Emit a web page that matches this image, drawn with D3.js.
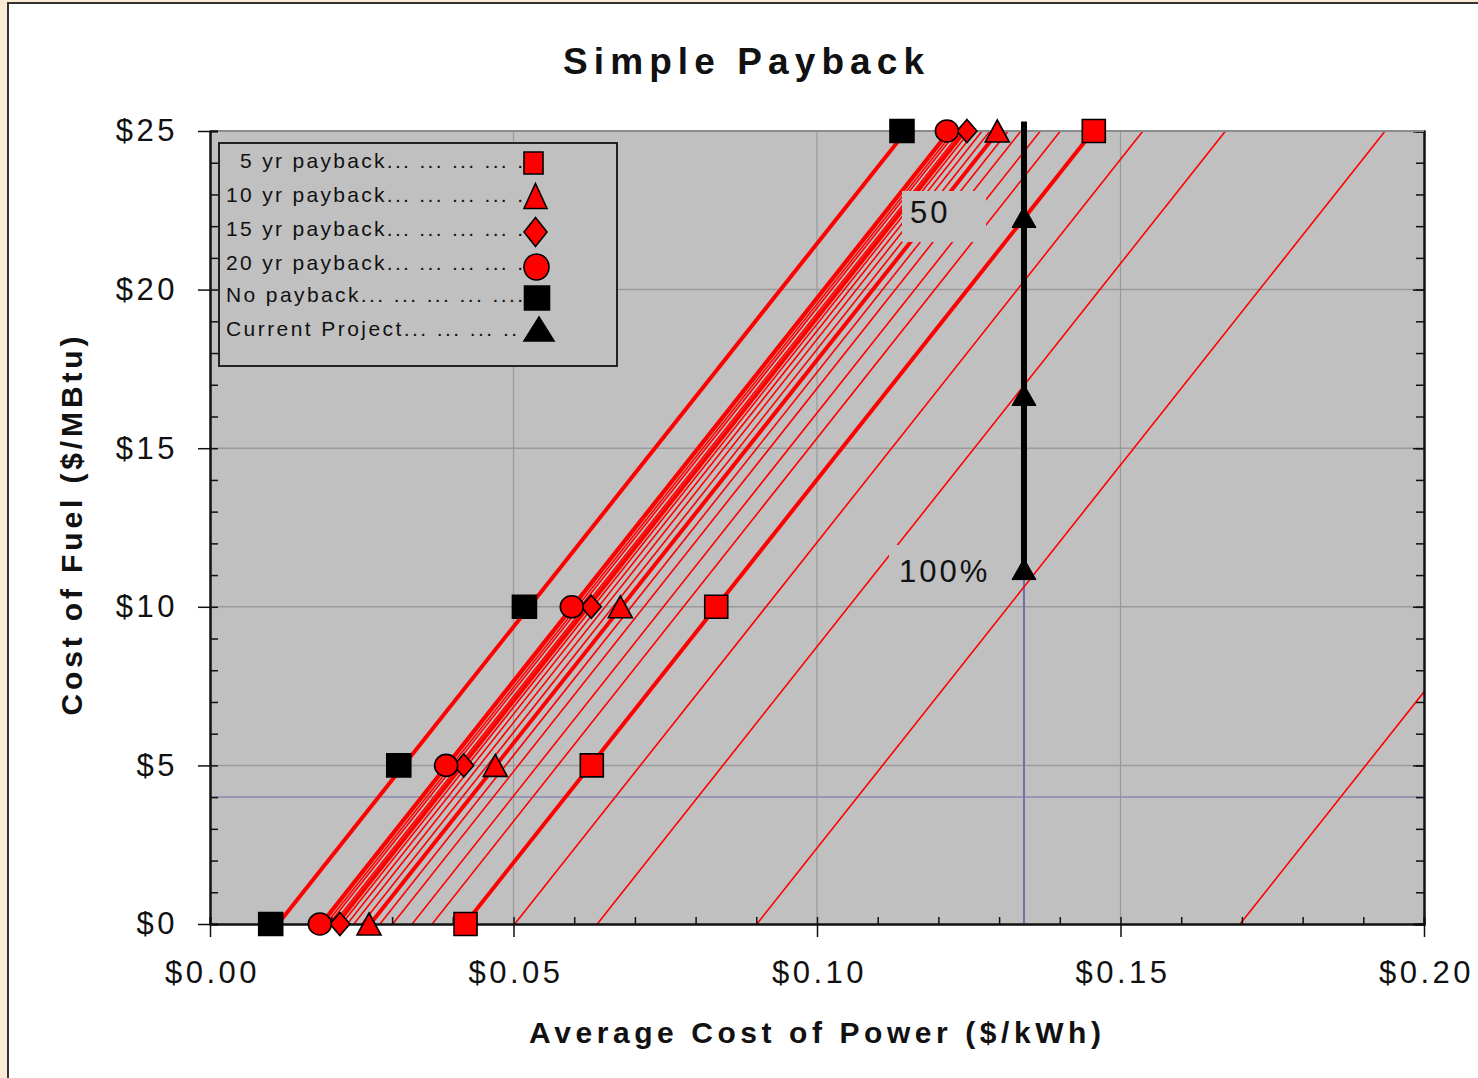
<!DOCTYPE html>
<html>
<head>
<meta charset="utf-8">
<script src="https://cdn.jsdelivr.net/npm/d3@7"></script>
<style>
  body { margin: 0; background: #faebd2; }
  text { font-family: "Liberation Sans", Arial, sans-serif; fill: #111; }
</style>
</head>
<body>
<svg id="chart" width="1478" height="1078"></svg>
<script>
// ---- data ----
const fuelLevels = [0, 5, 10, 25];              // $/MBtu
const cost5yr = [0.0421, 0.0629, 0.0834, 0.1456]; // $/kWh
const cost10yr = [0.0262, 0.0470, 0.0676, 0.1297];
const cost15yr = [0.0214, 0.0418, 0.0628, 0.1247];
const cost20yr = [0.0181, 0.0389, 0.0596, 0.1214];
const costNoPayback = [0.0100, 0.0311, 0.0518, 0.1140];

const projectCost = 0.1341;
const projectFuel = [11.22, 16.71, 22.32];
const projectLineTop = 25.3;
const referenceFuel = 4.0;

// payback-year contour lines: cost of power at $0 fuel, one per year
const contourYears = [1, 2, 3, 4, 5, 6, 7, 8, 9, 10, 11, 12, 13, 14, 15, 16, 17, 18, 19, 20];
const contourCostAtZeroFuel = [0.1697, 0.0901, 0.0638, 0.0502, 0.0420, 0.0366, 0.0333, 0.0301, 0.0280, 0.0264,
  0.0250, 0.0237, 0.0226, 0.0217, 0.0209, 0.0203, 0.0196, 0.0191, 0.0186, 0.0183];
const thickYears = [5, 10, 15, 20];
const noPaybackCostAtZeroFuel = 0.0112;
const heatRate = 0.00414; // $/kWh per $/MBtu (slope of every line)

const xMajor = [0, 0.05, 0.10, 0.15, 0.20];
const yMajor = [0, 5, 10, 15, 20, 25];

const legendLabels = ["5 yr payback... ... ... ... .", "10 yr payback... ... ... ... .", "15 yr payback... ... ... ... .",
  "20 yr payback... ... ... ... .", "No payback... ... ... ... ....", "Current Project... ... ... .."];

// ---- layout ----
const svg = d3.select("#chart");
const plotLeft = 210, plotRight = 1424, plotTop = 131, plotBottom = 924;

const x = d3.scaleLinear().domain([0, 0.20]).range([plotLeft, plotRight]);
const y = d3.scaleLinear().domain([0, 25]).range([plotBottom, plotTop]);

// white sheet with dark frame
svg.append("rect").attr("x", 8).attr("y", 3).attr("width", 1490).attr("height", 1100)
  .attr("fill", "#fff").attr("stroke", "#333").attr("stroke-width", 2);

// title
svg.append("text").attr("x", 743.5).attr("y", 74).attr("text-anchor", "middle")
  .attr("font-size", 37).attr("font-weight", "bold")
  .attr("textLength", 361).attr("lengthAdjust", "spacing")
  .text("Simple Payback");

// plot area
svg.append("rect").attr("x", plotLeft).attr("y", plotTop)
  .attr("width", plotRight - plotLeft).attr("height", plotBottom - plotTop)
  .attr("fill", "#c0c0c0");

// gridlines
svg.append("g").selectAll("line").data(xMajor.slice(1, -1)).join("line")
  .attr("x1", d => x(d)).attr("x2", d => x(d)).attr("y1", plotTop).attr("y2", plotBottom)
  .attr("stroke", "#9a9a9a").attr("stroke-width", 1.2);
svg.append("g").selectAll("line").data(yMajor.slice(1)).join("line")
  .attr("x1", plotLeft).attr("x2", plotRight).attr("y1", d => y(d)).attr("y2", d => y(d))
  .attr("stroke", "#9a9a9a").attr("stroke-width", 1.5);

// reference lines for current project
svg.append("line").attr("x1", plotLeft).attr("x2", plotRight)
  .attr("y1", y(referenceFuel)).attr("y2", y(referenceFuel))
  .attr("stroke", "#8a8aae").attr("stroke-width", 1.5);
svg.append("line").attr("x1", x(projectCost)).attr("x2", x(projectCost))
  .attr("y1", y(0)).attr("y2", y(projectFuel[0]))
  .attr("stroke", "#6f6fb0").attr("stroke-width", 2);

// red contour lines, clipped to the plot
svg.append("clipPath").attr("id", "plotClip").append("rect")
  .attr("x", plotLeft).attr("y", plotTop)
  .attr("width", plotRight - plotLeft).attr("height", plotBottom - plotTop);

const lineData = contourYears.map((yr, i) => ({ yr, c0: contourCostAtZeroFuel[i], thick: thickYears.includes(yr) }))
  .sort((a, b) => a.thick - b.thick);
lineData.push({ yr: Infinity, c0: noPaybackCostAtZeroFuel, thick: true });

const redLines = svg.append("g").attr("clip-path", "url(#plotClip)");
redLines.selectAll("line").data(lineData).join("line")
  .attr("x1", d => x(d.c0)).attr("y1", y(0))
  .attr("x2", d => x(d.c0 + heatRate * 25)).attr("y2", y(25))
  .attr("stroke", "#ff0000")
  .attr("stroke-width", d => d.thick ? 4 : 1.6);

// contour labels with masking boxes
const labelBoxes = [
  { text: "50", bx: 902, by: 191, bw: 84, bh: 51, tx: 910, ty: 223 },
  { text: "100%", bx: 889, by: 545, bw: 103, bh: 52, tx: 899, ty: 582 }
];
const lab = svg.append("g");
lab.selectAll("rect").data(labelBoxes).join("rect")
  .attr("x", d => d.bx).attr("y", d => d.by).attr("width", d => d.bw).attr("height", d => d.bh)
  .attr("fill", "#c0c0c0");
lab.selectAll("text").data(labelBoxes).join("text")
  .attr("x", d => d.tx).attr("y", d => d.ty).attr("font-size", 31).attr("letter-spacing", 3)
  .text(d => d.text);

// axes
const xMinor = d3.range(0, 21).map(i => i / 100);
const yMinor = d3.range(0, 26);

// right axis (ticks inward)
const rightAxis = svg.append("g").attr("transform", `translate(${plotRight},0)`);
rightAxis.call(d3.axisLeft(y).tickValues(yMinor).tickSize(8).tickFormat(""));
rightAxis.append("g").call(d3.axisLeft(y).tickValues(yMajor).tickSize(11).tickFormat(""));

// top border
svg.append("line").attr("x1", plotLeft).attr("x2", plotRight).attr("y1", plotTop).attr("y2", plotTop)
  .attr("stroke", "#8c8c8c").attr("stroke-width", 2);

// left axis
const leftAxis = svg.append("g").attr("transform", `translate(${plotLeft},0)`);
leftAxis.call(d3.axisRight(y).tickValues(yMinor).tickSize(8).tickFormat(""));
leftAxis.append("g").call(d3.axisLeft(y).tickValues(yMajor).tickSizeInner(12).tickSizeOuter(0)
  .tickPadding(20).tickFormat(d => "$" + d));

// bottom axis
const bottomAxis = svg.append("g").attr("transform", `translate(0,${plotBottom})`);
bottomAxis.call(d3.axisTop(x).tickValues(xMinor).tickSize(7).tickFormat(""));
bottomAxis.append("g").call(d3.axisBottom(x).tickValues(xMajor).tickSizeInner(13).tickSizeOuter(0)
  .tickPadding(24).tickFormat(d3.format("$.2f")));

svg.selectAll(".domain").attr("stroke", "#111").attr("stroke-width", 2);
svg.selectAll(".tick line").attr("stroke", "#111").attr("stroke-width", 1.5);
svg.selectAll(".tick text").attr("font-size", 31).attr("letter-spacing", 3.5)
  .attr("font-family", "'Liberation Sans', Arial, sans-serif").attr("fill", "#111");
bottomAxis.selectAll(".tick text").attr("dx", 2);

// axis titles
svg.append("text").attr("x", 815).attr("y", 1043).attr("text-anchor", "middle")
  .attr("font-size", 30).attr("font-weight", "bold")
  .attr("textLength", 572).attr("lengthAdjust", "spacing")
  .text("Average Cost of Power ($/kWh)");
svg.append("text").attr("transform", "translate(82,526) rotate(-90)").attr("text-anchor", "middle")
  .attr("font-size", 30).attr("font-weight", "bold")
  .attr("textLength", 379).attr("lengthAdjust", "spacing")
  .text("Cost of Fuel ($/MBtu)");

// current project bar
svg.append("line").attr("x1", x(projectCost)).attr("x2", x(projectCost))
  .attr("y1", y(projectFuel[0])).attr("y2", y(projectLineTop))
  .attr("stroke", "#000").attr("stroke-width", 6);

// marker shapes (w, h = bounding box)
function markerPath(type, w, h) {
  const a = w / 2, b = h / 2;
  if (type === "square") return `M${-a},${-b}H${a}V${b}H${-a}Z`;
  if (type === "triangle") return `M0,${-b}L${a},${b}L${-a},${b}Z`;
  if (type === "diamond") return `M0,${-b}L${a},0L0,${b}L${-a},0Z`;
  if (type === "circle") return `M${-a},0A${a},${b} 0 1,0 ${a},0A${a},${b} 0 1,0 ${-a},0Z`;
}

const seriesList = [
  { name: "5 yr", costs: cost5yr, type: "square", fill: "#ff0000", w: 23, h: 23 },
  { name: "No payback", costs: costNoPayback, type: "square", fill: "#000", w: 24, h: 23 },
  { name: "10 yr", costs: cost10yr, type: "triangle", fill: "#ff0000", w: 24, h: 22 },
  { name: "15 yr", costs: cost15yr, type: "diamond", fill: "#ff0000", w: 20, h: 23 },
  { name: "20 yr", costs: cost20yr, type: "circle", fill: "#ff0000", w: 23, h: 22 }
];

const marks = svg.append("g");
seriesList.forEach(s => {
  marks.append("g").selectAll("path").data(fuelLevels.map((f, i) => [s.costs[i], f])).join("path")
    .attr("transform", d => `translate(${x(d[0])},${y(d[1])})`)
    .attr("d", markerPath(s.type, s.w, s.h))
    .attr("fill", s.fill).attr("stroke", "#000").attr("stroke-width", 1.6);
});
marks.append("g").selectAll("path").data(projectFuel).join("path")
  .attr("transform", d => `translate(${x(projectCost)},${y(d) + 1})`)
  .attr("d", markerPath("triangle", 24, 21))
  .attr("fill", "#000").attr("stroke", "#000").attr("stroke-width", 1);

// legend
const legend = svg.append("g");
legend.append("rect").attr("x", 219).attr("y", 143).attr("width", 398).attr("height", 223)
  .attr("fill", "#c0c0c0").attr("stroke", "#222").attr("stroke-width", 2);

const legendMarks = [
  { type: "square", fill: "#ff0000", w: 19, h: 22, cx: 533.5 },
  { type: "triangle", fill: "#ff0000", w: 23, h: 25, cx: 535.5 },
  { type: "diamond", fill: "#ff0000", w: 23, h: 29, cx: 535.5 },
  { type: "circle", fill: "#ff0000", w: 25, h: 26, cx: 536.5 },
  { type: "square", fill: "#000", w: 25, h: 24, cx: 537 },
  { type: "triangle", fill: "#000", w: 30, h: 24, cx: 539 }
];
const rowBase = [168, 202, 236, 270, 302, 336];
const rowStart = [240, 226, 226, 226, 226, 226];
const rowEnd = [523, 523, 523, 523, 523, 517];
const rowMarkY = [163, 196, 232, 267, 298, 329];

legend.selectAll("text").data(legendLabels).join("text")
  .attr("x", (d, i) => rowStart[i]).attr("y", (d, i) => rowBase[i])
  .attr("font-size", 21)
  .attr("textLength", (d, i) => rowEnd[i] - rowStart[i]).attr("lengthAdjust", "spacing")
  .text(d => d);
legend.selectAll("path").data(legendMarks).join("path")
  .attr("transform", (d, i) => `translate(${d.cx},${rowMarkY[i]})`)
  .attr("d", d => markerPath(d.type, d.w, d.h))
  .attr("fill", d => d.fill).attr("stroke", "#000").attr("stroke-width", 1.6);
</script>
</body>
</html>
